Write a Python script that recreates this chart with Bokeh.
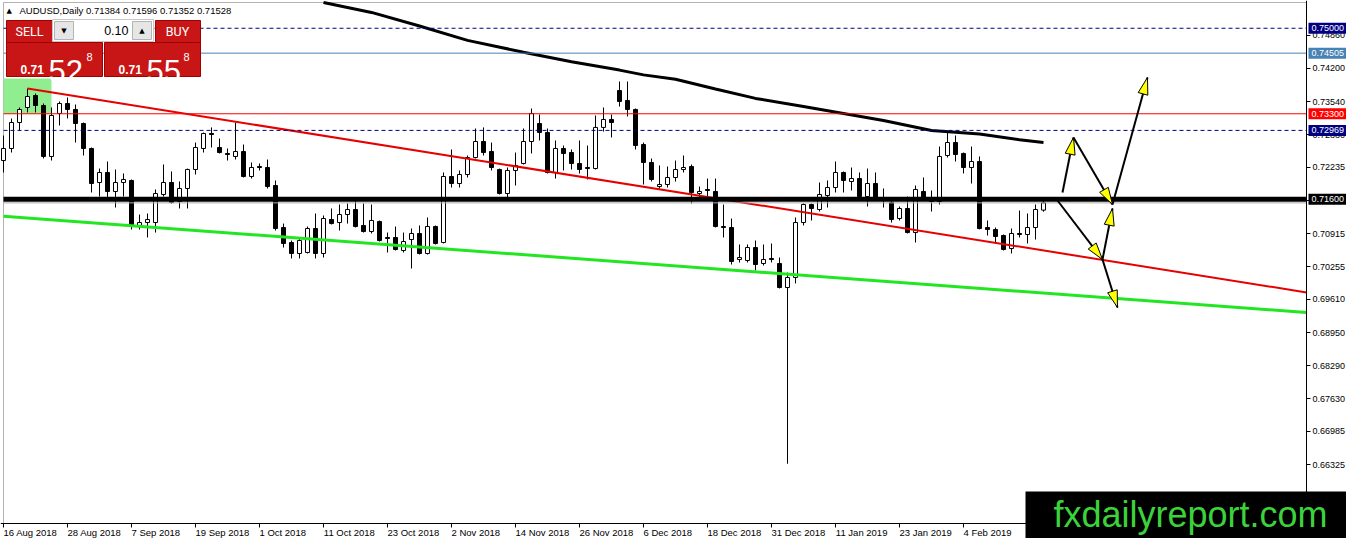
import math
from bokeh.plotting import figure
from bokeh.models import (Range1d, FixedTicker, PrintfTickFormatter, CustomJSTickFormatter,
                          LinearAxis, BoxAnnotation, Label)
from bokeh.core.properties import value
from bokeh.embed import file_html
from bokeh.resources import INLINE

# ---------------- data ----------------
symbol = "AUDUSD,Daily"
last_bar = [0.71384, 0.71596, 0.71352, 0.71528]

opens = [0.72370, 0.72609, 0.73126, 0.73424, 0.73663, 0.73464, 0.72450, 0.73305, 0.73504, 0.73385,
         0.73106, 0.72609, 0.71933, 0.72132, 0.71754, 0.71933, 0.71973, 0.71078, 0.71137, 0.71137,
         0.71694, 0.71933, 0.71555, 0.71814, 0.72191, 0.72609, 0.72907, 0.72629, 0.72510, 0.72450,
         0.72549, 0.72052, 0.72251, 0.72231, 0.71873, 0.71038, 0.70740, 0.70521, 0.70541, 0.71018,
         0.70521, 0.71197, 0.71137, 0.71296, 0.71396, 0.71078, 0.70958, 0.71157, 0.70839, 0.70839,
         0.70581, 0.70799, 0.70919, 0.70521, 0.71058, 0.70740, 0.72052, 0.71913, 0.72092, 0.72430,
         0.72748, 0.72549, 0.72191, 0.71714, 0.72172, 0.72311, 0.72748, 0.73106, 0.72927, 0.72132,
         0.72609, 0.72529, 0.72311, 0.72231, 0.72211, 0.73028, 0.73186, 0.73762, 0.73564, 0.73385,
         0.72688, 0.72331, 0.71853, 0.71893, 0.72032, 0.72191, 0.72251, 0.71714, 0.71794, 0.71754,
         0.71058, 0.71038, 0.70402, 0.70382, 0.70640, 0.70322, 0.70422, 0.70322, 0.69845, 0.70044,
         0.71137, 0.71495, 0.71396, 0.71674, 0.71833, 0.72132, 0.71953, 0.72012, 0.71654, 0.71913,
         0.71635, 0.71535, 0.71217, 0.71416, 0.70938, 0.71754, 0.71635, 0.71555, 0.72470, 0.72728,
         0.72510, 0.72231, 0.72350, 0.71038, 0.70998, 0.70879, 0.70620, 0.70919, 0.70899, 0.71038,
         0.71384]
highs = [0.72867, 0.73206, 0.73424, 0.73802, 0.73703, 0.73504, 0.73424, 0.73544, 0.73623, 0.73484,
         0.73126, 0.72629, 0.72211, 0.72350, 0.72191, 0.72112, 0.71993, 0.71296, 0.71316, 0.71794,
         0.72291, 0.72152, 0.71953, 0.72211, 0.72728, 0.72927, 0.73028, 0.72808, 0.72609, 0.73126,
         0.72688, 0.72331, 0.72311, 0.72390, 0.71973, 0.71117, 0.70779, 0.70839, 0.71058, 0.71316,
         0.71277, 0.71416, 0.71495, 0.71515, 0.71575, 0.71515, 0.71495, 0.71177, 0.70938, 0.71058,
         0.70938, 0.71018, 0.71078, 0.71237, 0.71078, 0.72132, 0.72589, 0.72172, 0.72470, 0.73007,
         0.73028, 0.72728, 0.72211, 0.72231, 0.72529, 0.73007, 0.73404, 0.73285, 0.73007, 0.72768,
         0.72668, 0.72589, 0.72768, 0.72668, 0.73265, 0.73424, 0.73285, 0.73941, 0.73941, 0.73405,
         0.72728, 0.72410, 0.72271, 0.72251, 0.72370, 0.72470, 0.72291, 0.71853, 0.72012, 0.72012,
         0.71495, 0.71217, 0.70700, 0.70700, 0.70779, 0.70700, 0.70720, 0.70441, 0.70143, 0.71237,
         0.71515, 0.71515, 0.71933, 0.71973, 0.72350, 0.72152, 0.72231, 0.72132, 0.72211, 0.72132,
         0.71814, 0.71615, 0.71456, 0.71654, 0.71873, 0.72032, 0.71774, 0.72649, 0.72927, 0.72867,
         0.72529, 0.72649, 0.72450, 0.71177, 0.71038, 0.70899, 0.71018, 0.71376, 0.71316, 0.71495,
         0.71596]
lows = [0.72132, 0.72529, 0.72967, 0.73325, 0.73325, 0.72410, 0.72370, 0.73066, 0.73206, 0.72728,
        0.72470, 0.71734, 0.71654, 0.71635, 0.71436, 0.71654, 0.70998, 0.70998, 0.70839, 0.70938,
        0.71654, 0.71515, 0.71416, 0.71416, 0.72092, 0.72529, 0.72629, 0.72509, 0.72370, 0.72390,
        0.72032, 0.72012, 0.72172, 0.71814, 0.70978, 0.70640, 0.70422, 0.70422, 0.70521, 0.70422,
        0.70441, 0.71098, 0.70978, 0.71117, 0.71038, 0.70938, 0.70919, 0.70759, 0.70541, 0.70581,
        0.70541, 0.70223, 0.70501, 0.70501, 0.70700, 0.70720, 0.71833, 0.71833, 0.72032, 0.72410,
        0.72470, 0.72172, 0.71694, 0.71635, 0.71873, 0.72291, 0.72510, 0.72768, 0.72112, 0.72012,
        0.72172, 0.72191, 0.72112, 0.71993, 0.72191, 0.72947, 0.72828, 0.73444, 0.73245, 0.72589,
        0.71893, 0.71953, 0.71814, 0.71833, 0.71953, 0.72132, 0.71515, 0.71635, 0.71615, 0.71038,
        0.70839, 0.70302, 0.70342, 0.70342, 0.70183, 0.70282, 0.70342, 0.69825, 0.66340, 0.69925,
        0.71078, 0.71177, 0.71356, 0.71436, 0.71734, 0.71734, 0.71774, 0.71635, 0.71456, 0.71575,
        0.71436, 0.71137, 0.71177, 0.70919, 0.70740, 0.71575, 0.71356, 0.71495, 0.72430, 0.72350,
        0.72112, 0.71913, 0.71000, 0.70879, 0.70720, 0.70581, 0.70521, 0.70839, 0.70720, 0.70799,
        0.71352]
closes = [0.72609, 0.73126, 0.73385, 0.73643, 0.73464, 0.72450, 0.73265, 0.73504, 0.73385, 0.73106,
          0.72609, 0.71913, 0.72132, 0.71754, 0.71933, 0.71993, 0.71098, 0.71137, 0.71197, 0.71714,
          0.71933, 0.71535, 0.71814, 0.72191, 0.72629, 0.72907, 0.72887, 0.72529, 0.72490, 0.72549,
          0.72052, 0.72231, 0.72231, 0.71853, 0.71018, 0.70720, 0.70521, 0.70779, 0.71018, 0.70521,
          0.71217, 0.71117, 0.71296, 0.71396, 0.71058, 0.70958, 0.71177, 0.70779, 0.70819, 0.70600,
          0.70759, 0.70919, 0.70521, 0.71058, 0.70720, 0.72052, 0.71913, 0.72092, 0.72430, 0.72748,
          0.72529, 0.72231, 0.71714, 0.72172, 0.72271, 0.72748, 0.73305, 0.72927, 0.72132, 0.72609,
          0.72510, 0.72311, 0.72191, 0.72211, 0.73028, 0.73186, 0.73126, 0.73544, 0.73385, 0.72668,
          0.72331, 0.71993, 0.71893, 0.72032, 0.72191, 0.72231, 0.71734, 0.71754, 0.71774, 0.71058,
          0.71038, 0.70362, 0.70441, 0.70640, 0.70302, 0.70402, 0.70402, 0.69845, 0.70044, 0.71137,
          0.71495, 0.71416, 0.71694, 0.71833, 0.72132, 0.71973, 0.72012, 0.71654, 0.71913, 0.71615,
          0.71615, 0.71197, 0.71416, 0.70938, 0.71794, 0.71615, 0.71555, 0.72450, 0.72728, 0.72490,
          0.72231, 0.72350, 0.71018, 0.70998, 0.70859, 0.70600, 0.70919, 0.70899, 0.71038, 0.71396,
          0.71528]
bars = list(range(len(opens)))

date_labels = ["16 Aug 2018", "28 Aug 2018", "7 Sep 2018", "19 Sep 2018", "1 Oct 2018",
               "11 Oct 2018", "23 Oct 2018", "2 Nov 2018", "14 Nov 2018", "26 Nov 2018",
               "6 Dec 2018", "18 Dec 2018", "31 Dec 2018", "11 Jan 2019", "23 Jan 2019", "4 Feb 2019"]
date_label_bars = [0, 8, 16, 24, 32, 40, 48, 56, 64, 72, 80, 88, 96, 104, 112, 120]

price_ticks = [0.74860, 0.74200, 0.73540, 0.72880, 0.72235, 0.71580, 0.70915, 0.70255,
               0.69610, 0.68950, 0.68290, 0.67630, 0.66985, 0.66325, 0.65665]

ma_bars = [40, 46, 52, 58, 65, 71, 77, 80, 84, 89, 94, 100, 110, 116, 122, 127, 130]
ma_values = [0.75512, 0.75315, 0.75045, 0.74759, 0.74524, 0.74333, 0.74168, 0.74073,
             0.73985, 0.73792, 0.73605, 0.73444, 0.73166, 0.72967, 0.72897, 0.72782, 0.72728]

red_trend_bars = [3, 130]
red_trend_prices = [0.73802, 0.70581]
green_trend_bars = [15, 125]
green_trend_prices = [0.71086, 0.69793]

zone_bars = [-1, 6]
zone_prices = [0.73300, 0.74000]

level_prices = [0.75000, 0.74505, 0.73300, 0.72969, 0.71600]
level_colors = ["#000080", "#4682B4", "#FF0000", "#000080", "#000000"]
level_widths = [1, 1, 1, 1, 5]
level_dashes = ["4 3", "solid", "solid", "4 3", "solid"]
bid_price = 0.71528

arrow_start_bars = [132.375, 133.75, 138.625, 131.75, 137.375, 137.375]
arrow_start_prices = [0.71734, 0.72828, 0.71495, 0.71575, 0.70402, 0.70402]
arrow_end_bars = [133.75, 138.625, 143.0, 137.375, 138.625, 139.25]
arrow_end_prices = [0.72828, 0.71495, 0.74021, 0.70402, 0.71416, 0.69447]

lot_size = "0.10"
sell_quote = ["0.71", "52", "8"]
buy_quote = ["0.71", "55", "8"]
watermark = "fxdailyreport.com"

# ---------------- layout calibration (canvas pixels) ----------------
BAR0_X = 3.0          # pixel x of bar 0
BAR_PX = 8.0          # pixels per bar
PRICE_Y0 = 0.75552    # price at pixel y = 0
PRICE_PX = 0.00019885 # price per pixel

def dx(px):
    return (px - BAR0_X) / BAR_PX

def dy(py):
    return PRICE_Y0 - PRICE_PX * py

def sx(k):
    return BAR0_X + BAR_PX * k

def sy(pr):
    return (PRICE_Y0 - pr) / PRICE_PX

W, H = 1346, 538
CH_L, CH_T, CH_R, CH_B = 3, 2, 1306, 523        # chart window edges (pixels)
chart_left, chart_right = dx(CH_L), dx(CH_R)
chart_top, chart_bottom = dy(CH_T), dy(CH_B)

FONT = "Liberation Sans"
FS = "9.5px"
FS_Y = "9px"

p = figure(width=W, height=H, output_backend="svg", toolbar_location=None,
           x_range=Range1d(dx(0), dx(W)), y_range=Range1d(dy(H), dy(0)),
           x_axis_location=None, y_axis_location=None,
           min_border_left=0, min_border_top=0, min_border_right=0, min_border_bottom=0)
p.background_fill_color = "white"
p.border_fill_color = "white"
p.outline_line_color = None
p.xgrid.visible = False
p.ygrid.visible = False

# price scale (right)
yax = LinearAxis(fixed_location=chart_right, ticker=FixedTicker(ticks=price_ticks),
                 formatter=PrintfTickFormatter(format="%.5f"),
                 major_tick_out=4, major_tick_in=0, minor_tick_line_color=None,
                 major_label_standoff=2, major_label_text_font=FONT,
                 major_label_text_font_size=FS_Y, major_label_text_color="black",
                 axis_line_color="black")
p.add_layout(yax, "right")

# time scale (below): tick marks at the labelled bars, labels starting at the tick
xax = LinearAxis(fixed_location=chart_bottom, ticker=FixedTicker(ticks=date_label_bars),
                 formatter=CustomJSTickFormatter(code="return ''"),
                 major_tick_out=4, major_tick_in=0, minor_tick_line_color=None,
                 axis_line_color="black")
p.add_layout(xax, "below")

ARIAL_W = {" ": 278, "A": 667, "u": 556, "g": 556, "S": 667, "e": 556, "p": 556, "O": 778,
           "c": 500, "t": 278, "N": 722, "o": 556, "v": 500, "D": 722, "J": 500, "a": 556,
           "n": 556, "F": 611, "b": 556}
def text_px(s, size=9.5):
    return sum(ARIAL_W.get(ch, 556) for ch in s) / 1000.0 * size

label_centers = [b + text_px(t) / 2.0 / BAR_PX for b, t in zip(date_label_bars, date_labels)]
xlab = LinearAxis(fixed_location=chart_bottom, ticker=FixedTicker(ticks=label_centers),
                  formatter=CustomJSTickFormatter(
                      args=dict(centers=label_centers, names=date_labels),
                      code="const i = centers.findIndex(t => Math.abs(t - tick) < 1e-6);"
                           "return i < 0 ? '' : names[i];"),
                  major_tick_out=0, major_tick_in=0, major_tick_line_color=None,
                  minor_tick_line_color=None, axis_line_color=None,
                  major_label_standoff=3, major_label_text_font=FONT,
                  major_label_text_font_size=FS, major_label_text_color="black")
p.add_layout(xlab, "below")

# chart window border
p.add_layout(BoxAnnotation(left=chart_left, right=chart_right, top=chart_top, bottom=chart_bottom,
                           fill_alpha=0, line_color="black", line_width=1, level="underlay"))

# zone rectangle
p.quad(left=[max(zone_bars[0], chart_left)], right=[zone_bars[1]],
       bottom=[zone_prices[0]], top=[zone_prices[1]], fill_color="#90EE90", line_color=None)

# candles
p.segment(x0=bars, y0=lows, x1=bars, y1=highs, line_color="black", line_width=1)
tops = [max(o, c) for o, c in zip(opens, closes)]
bots = [min(o, c) for o, c in zip(opens, closes)]
fills = ["white" if c >= o else "black" for o, c in zip(opens, closes)]
p.vbar(x=bars, width=0.5, top=tops, bottom=bots, fill_color=fills, line_color="black", line_width=1)

# trendlines extended to the chart edge
def trend(bars_, prices_, k):
    s = (prices_[1] - prices_[0]) / (bars_[1] - bars_[0])
    return prices_[0] + s * (k - bars_[0])

p.line([red_trend_bars[0], chart_right],
       [trend(red_trend_bars, red_trend_prices, red_trend_bars[0]),
        trend(red_trend_bars, red_trend_prices, chart_right)],
       line_color="#E60000", line_width=2)
p.line([chart_left, chart_right],
       [trend(green_trend_bars, green_trend_prices, chart_left),
        trend(green_trend_bars, green_trend_prices, chart_right)],
       line_color="#22E622", line_width=3)

# moving average
p.line(ma_bars, ma_values, line_color="black", line_width=3)

# horizontal levels and bid line
for lp, lc, lw, ld in zip(level_prices, level_colors, level_widths, level_dashes):
    p.line([chart_left, chart_right], [lp, lp], line_color=lc, line_width=lw, line_dash=ld)
p.line([chart_left, chart_right], [bid_price, bid_price], line_color="#A8A8A8", line_width=1)

# scenario arrows
p.segment(x0=arrow_start_bars, y0=arrow_start_prices, x1=arrow_end_bars, y1=arrow_end_prices,
          line_color="black", line_width=2)
hx, hy = [], []
for k0, p0, k1, p1 in zip(arrow_start_bars, arrow_start_prices, arrow_end_bars, arrow_end_prices):
    x0, y0, x1, y1 = sx(k0), sy(p0), sx(k1), sy(p1)
    n = math.hypot(x1 - x0, y1 - y0)
    ux, uy = (x1 - x0) / n, (y1 - y0) / n
    L, Wd = 17.0, 5.0
    bx, by = x1 - ux * L, y1 - uy * L
    nx, ny = -uy, ux
    pts = [(x1, y1), (bx + nx * Wd, by + ny * Wd), (bx - nx * Wd, by - ny * Wd)]
    hx.append([dx(a) for a, _ in pts])
    hy.append([dy(b) for _, b in pts])
p.patches(hx, hy, fill_color="#FFFF00", line_color="black", line_width=1)

# price labels on the scale
for lp, lc in zip(level_prices, level_colors):
    yc = sy(lp)
    p.add_layout(BoxAnnotation(left=dx(CH_R + 2), right=dx(W + 10), top=dy(yc - 5.5),
                               bottom=dy(yc + 5.5), fill_color=lc, fill_alpha=1.0,
                               line_color=None, level="overlay"))
    p.add_layout(Label(x=dx(CH_R + 5), y=lp, text="%.5f" % lp, text_baseline="middle",
                       text_align="left", text_font=FONT, text_font_size=FS_Y,
                       text_color="white", level="overlay"))

# header
p.text(x=[dx(6)], y=[dy(10)], text=["\u25b2"], text_font=value("DejaVu Sans"),
       text_font_size=value("7px"), text_baseline="middle", text_color="black")
p.text(x=[dx(19)], y=[dy(10)],
       text=["%s  %s" % (symbol, " ".join("%.5f" % v for v in last_bar))],
       text_font=value(FONT), text_font_size=value(FS), text_baseline="middle", text_color="black")

# one-click trading panel
RED = "#C81616"
p.quad(left=[dx(6), dx(155), dx(6), dx(104)], right=[dx(52), dx(200), dx(102), dx(200)],
       top=[dy(20), dy(20), dy(42), dy(42)], bottom=[dy(42), dy(42), dy(76), dy(76)],
       fill_color=RED, line_color="#A00000", line_width=1)
p.quad(left=[dx(52)], right=[dx(153)], top=[dy(19)], bottom=[dy(41)],
       fill_color="white", line_color="#C8C8C8")
p.quad(left=[dx(54), dx(132)], right=[dx(73), dx(151)], top=[dy(21), dy(21)], bottom=[dy(39), dy(39)],
       fill_color="#E6E6E6", line_color="#B4B4B4")
p.text(x=[dx(63.5), dx(141.5)], y=[dy(30), dy(30)], text=["\u25bc", "\u25b2"],
       text_font=value("DejaVu Sans"), text_font_size=value("7px"),
       text_align="center", text_baseline="middle", text_color="black")
p.text(x=[dx(128)], y=[dy(30)], text=[lot_size], text_font=value(FONT),
       text_font_size=value("12.5px"), text_align="right", text_baseline="middle", text_color="black")
p.text(x=[dx(29), dx(177)], y=[dy(31), dy(31)], text=["SELL", "BUY"], text_font=value("Roboto"),
       text_font_size=value("12.5px"), text_align="center", text_baseline="middle", text_color="white")
p.text(x=[dx(20), dx(118)], y=[dy(69), dy(69)], text=[sell_quote[0], buy_quote[0]],
       text_font=value(FONT), text_font_size=value("12px"), text_font_style="bold",
       text_baseline="alphabetic", text_color="white")
p.text(x=[dx(48), dx(146)], y=[dy(70), dy(70)], text=[sell_quote[1], buy_quote[1]],
       text_font=value(FONT), text_font_size=value("31px"),
       text_baseline="alphabetic", text_color="white")
p.text(x=[dx(86), dx(183)], y=[dy(56), dy(56)], text=[sell_quote[2], buy_quote[2]],
       text_font=value(FONT), text_font_size=value("11px"),
       text_baseline="alphabetic", text_color="white")

# watermark
p.add_layout(BoxAnnotation(left=dx(1025), right=dx(W + 10), top=dy(491), bottom=dy(H + 10),
                           fill_color="black", fill_alpha=1.0, line_color=None, level="overlay"))
p.add_layout(Label(x=dx(1190), y=dy(514), text=watermark, text_font=FONT, text_font_size="36px",
                   text_color="#3CD23C", text_baseline="middle", text_align="center",
                   level="overlay"))

open("out.html", "w").write(file_html(p, INLINE))
